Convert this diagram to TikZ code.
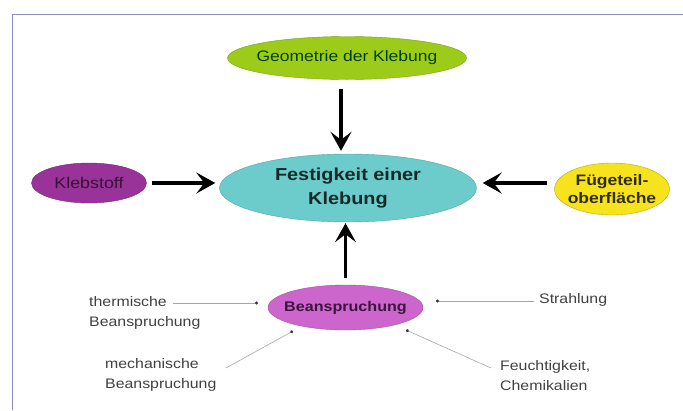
\documentclass[tikz,border=0pt]{standalone}
\usepackage{fontspec}
\setmainfont{Liberation Sans}
\newfontfamily\widefont[FakeStretch=1.15]{Liberation Sans}
\usetikzlibrary{shapes.geometric,arrows.meta}

\definecolor{geogreen}{HTML}{9CCB19}
\definecolor{klebviolet}{HTML}{993399}
\definecolor{festcyan}{HTML}{6CCCCC}
\definecolor{fuegyellow}{HTML}{F7E21E}
\definecolor{beanpink}{HTML}{CC66CC}
\definecolor{framecol}{HTML}{8C8CC0}

\tikzset{
  blob/.style={ellipse,inner sep=-20pt,align=center},
  bigarrow/.style={line width=3.4pt,-{Stealth[length=19pt,width=21pt,inset=8pt]}},
  smallarrow/.style={gray!70,line width=0.6pt,-{Circle[length=3pt,black!80]}},
  lbl/.style={font=\widefont\fontsize{13.8}{20}\selectfont,text=black!75,align=left,inner sep=0pt}
}

\begin{document}
\begin{tikzpicture}[x=1pt,y=-1pt]
  \useasboundingbox (0,0) rectangle (683,410);
  \draw[framecol,line width=1pt] (12,410) -- (12,14) -- (683,14);

  % Ellipsen
  \node[blob,fill=geogreen,draw=geogreen!80!black,minimum width=239,minimum height=43,
        font=\widefont\fontsize{15.2}{16}\selectfont,text=black!75!green] (geo) at (347,58) {Geometrie der Klebung};
  \node[blob,fill=festcyan,draw=festcyan!80!black,minimum width=257,minimum height=68,
        font=\widefont\bfseries\fontsize{17.3}{24}\selectfont,text=black!80!festcyan] (fest) at (348,188) {Festigkeit einer\\Klebung};
  \node[blob,fill=klebviolet,draw=klebviolet!80!black,minimum width=115,minimum height=40,
        font=\widefont\fontsize{15.5}{16}\selectfont,text=black!65!klebviolet] (kleb) at (89,183) {Klebstoff};
  \node[blob,fill=fuegyellow,draw=fuegyellow!75!black,minimum width=115,minimum height=52,
        font=\widefont\bfseries\fontsize{15.2}{18}\selectfont,text=black!80!fuegyellow] (fuege) at (612,189) {Fügeteil-\\oberfläche};
  \node[blob,fill=beanpink,draw=beanpink!80!black,minimum width=155,minimum height=45,
        font=\widefont\bfseries\fontsize{14}{16}\selectfont,text=black!60!klebviolet] (bean) at (345.5,307.5) {Beanspruchung};

  % Einflussgroessen
  \node[lbl,anchor=west] (therm) at (89,313) {thermische\\Beanspruchung};
  \node[lbl,anchor=west] (mech) at (105,375) {mechanische\\Beanspruchung};
  \node[lbl,anchor=west] (strahl) at (539,300) {Strahlung};
  \node[lbl,anchor=west] (feucht) at (500,376) {Feuchtigkeit,\\Chemikalien};

  \coordinate (thermEnd) at (173,303);
  \coordinate (mechEnd) at (226,368);
  \coordinate (strahlEnd) at (534,301);
  \coordinate (feuchtEnd) at (491,368);

  % Pfeile
  \draw[bigarrow,shorten <=9pt,shorten >=3pt] ([xshift=-6pt]geo.south) -- ([xshift=-6pt]geo.south |- fest.north);
  \draw[bigarrow,shorten <=5pt,shorten >=4pt] (kleb.east) -- (kleb.east -| fest.west);
  \draw[bigarrow,shorten <=7pt,shorten >=6pt] (fuege.west |- kleb.east) -- (fest.east |- kleb.east);
  \draw[bigarrow,shorten <=7pt,shorten >=1pt] (bean.north) -- (bean.north |- fest.south);

  \draw[smallarrow] (thermEnd) -- (258,303);
  \draw[smallarrow] (mechEnd) -- (293,331);
  \draw[smallarrow] (strahlEnd) -- (436,301);
  \draw[smallarrow] (feuchtEnd) -- (406,330);
\end{tikzpicture}
\end{document}
